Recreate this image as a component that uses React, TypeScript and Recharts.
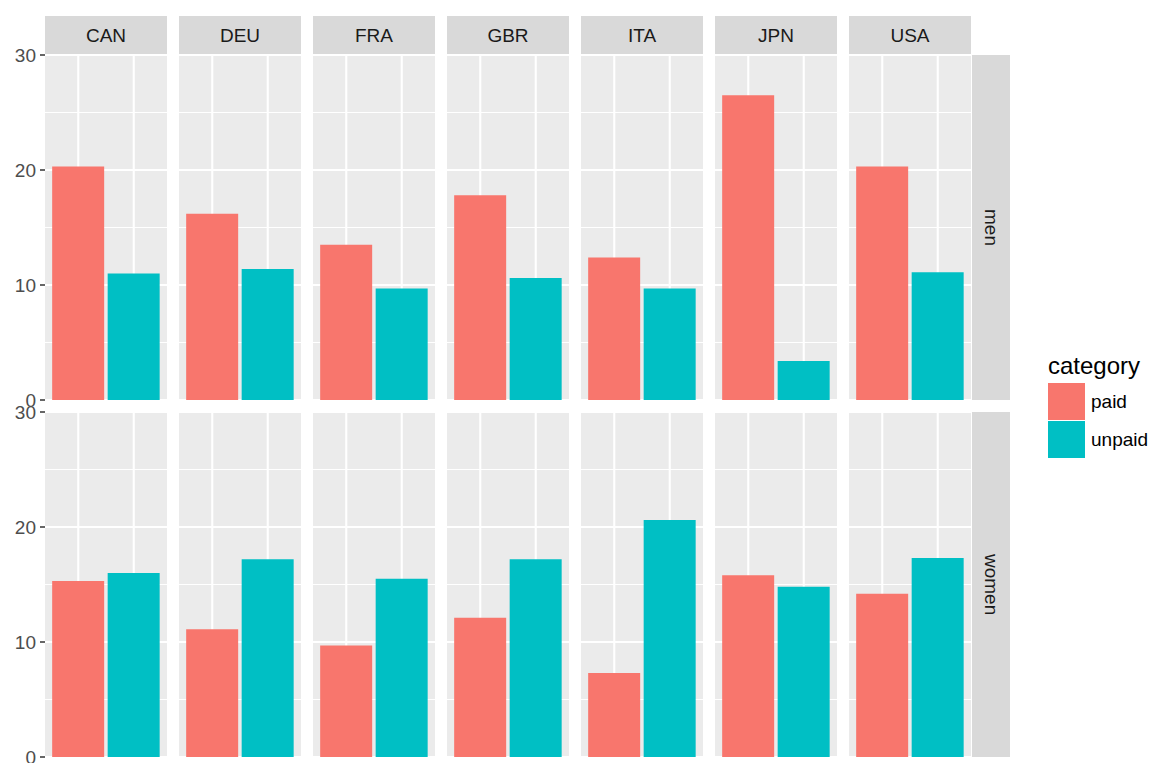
import React from "react";
import {
  BarChart,
  Bar,
  Cell,
  XAxis,
  YAxis,
  CartesianGrid,
  ReferenceLine,
} from "recharts";

const countries = ["CAN", "DEU", "FRA", "GBR", "ITA", "JPN", "USA"];
const sexes = ["men", "women"];
const categories = ["paid", "unpaid"];
const colors = ["#F8766D", "#00BFC4"];

// hours per week
const menPaid = [20.3, 16.2, 13.5, 17.8, 12.4, 26.5, 20.3];
const menUnpaid = [11.0, 11.4, 9.7, 10.6, 9.7, 3.4, 11.1];
const womenPaid = [15.3, 11.1, 9.7, 12.1, 7.3, 15.8, 14.2];
const womenUnpaid = [16.0, 17.2, 15.5, 17.2, 20.6, 14.8, 17.3];

const yTicks = [0, 10, 20, 30];
const yMinor = [5, 15, 25];

const FONT = "'Liberation Sans', Arial, sans-serif";
const PANEL_W = 122;
const PANEL_H = 345;
const STEP = 134;
const LEFT = 45;
const ROW_TOP = [55, 412];
const PAD = 12;
const AXIS_W = 45;

const values: Record<string, number[][]> = {
  men: [menPaid, menUnpaid],
  women: [womenPaid, womenUnpaid],
};

const Panel = ({ sex, ci }: { sex: string; ci: number }) => {
  const data = categories.map((cat, k) => ({ cat, value: values[sex][k][ci] }));
  const first = ci === 0;
  const w = first ? PANEL_W + AXIS_W : PANEL_W;
  return (
    <BarChart
      width={w}
      height={PANEL_H + PAD * 2}
      data={data}
      margin={{ top: PAD, bottom: PAD, left: 0, right: 0 }}
      barCategoryGap="3%"
    >
      <CartesianGrid
        vertical={false}
        horizontalValues={yMinor}
        stroke="#FFFFFF"
        strokeWidth={1}
        fill="#EBEBEB"
        fillOpacity={1}
      />
      <CartesianGrid
        vertical={false}
        horizontalValues={yTicks}
        stroke="#FFFFFF"
        strokeWidth={2.1}
      />
      <XAxis dataKey="cat" hide padding={{ left: 5.5, right: 5.5 }} />
      <YAxis
        hide={!first}
        width={AXIS_W}
        domain={[0, 30]}
        ticks={yTicks}
        interval={0}
        axisLine={false}
        tickSize={5}
        tickMargin={4}
        tickLine={{ stroke: "#333333", strokeWidth: 1.5 }}
        tick={{ fill: "#4D4D4D", fontSize: 19, fontFamily: FONT }}
      />
      {categories.map((c) => (
        <ReferenceLine key={c} x={c} stroke="#FFFFFF" strokeWidth={2.1} zIndex={-90} />
      ))}
      <Bar dataKey="value" isAnimationActive={false}>
        {data.map((d, k) => (
          <Cell key={d.cat} fill={colors[k]} />
        ))}
      </Bar>
    </BarChart>
  );
};

export default function App() {
  return (
    <div
      style={{
        position: "absolute",
        left: 0,
        top: 0,
        width: 1151,
        height: 763,
        background: "#FFFFFF",
        fontFamily: FONT,
      }}
    >
      {countries.map((c, ci) => (
        <div
          key={c}
          style={{
            position: "absolute",
            left: LEFT + STEP * ci,
            top: 16,
            width: PANEL_W,
            height: 39,
            background: "#D9D9D9",
            color: "#1A1A1A",
            fontSize: 19,
            lineHeight: "39px",
            textAlign: "center",
          }}
        >
          {c}
        </div>
      ))}
      {sexes.map((s, ri) => (
        <div
          key={s}
          style={{
            position: "absolute",
            left: 972,
            top: ROW_TOP[ri],
            width: 38,
            height: PANEL_H,
            background: "#D9D9D9",
            color: "#1A1A1A",
            fontSize: 19,
            display: "flex",
            alignItems: "center",
            justifyContent: "center",
          }}
        >
          <span style={{ writingMode: "vertical-rl" }}>{s}</span>
        </div>
      ))}
      {sexes.map((s, ri) =>
        countries.map((c, ci) => (
          <div
            key={s + c}
            style={{
              position: "absolute",
              left: ci === 0 ? 0 : LEFT + STEP * ci,
              top: ROW_TOP[ri] - PAD,
            }}
          >
            <Panel sex={s} ci={ci} />
          </div>
        ))
      )}
      <div
        style={{
          position: "absolute",
          left: 1048,
          top: 354,
          fontSize: 24,
          lineHeight: "24px",
          color: "#000000",
        }}
      >
        category
      </div>
      {categories.map((cat, k) => (
        <div
          key={cat}
          style={{
            position: "absolute",
            left: 1048,
            top: 383 + 38 * k,
            height: 37,
            display: "flex",
            alignItems: "center",
          }}
        >
          <div style={{ width: 37, height: 37, background: colors[k] }} />
          <span style={{ marginLeft: 6, fontSize: 19, color: "#000000" }}>{cat}</span>
        </div>
      ))}
    </div>
  );
}
